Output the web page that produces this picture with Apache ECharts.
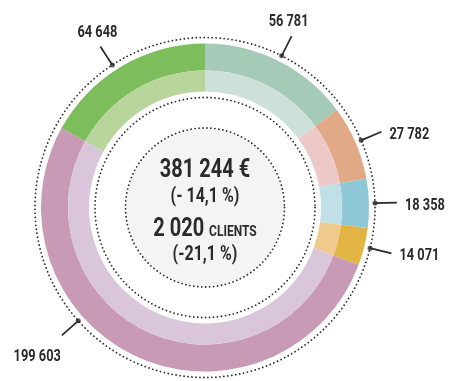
<!DOCTYPE html>
<html>
<head>
<meta charset="utf-8">
<script src="https://cdn.jsdelivr.net/npm/echarts@6/dist/echarts.min.js"></script>
<style>
  html, body { margin: 0; padding: 0; background: #ffffff; }
  #chart { width: 451px; height: 381px; }
</style>
</head>
<body>
<div id="chart"></div>
<script>
// Revenue split by segment, listed clockwise from 12 o'clock
const sliceValues = [56781, 27782, 18358, 14071, 199603, 64648];

// Centre block
const totalText = '381 244 €';
const totalChange = '(- 14,1 %)';
const clientsCount = '2 020';
const clientsWord = 'CLIENTS';
const clientsChange = '(-21,1 %)';

// Palette: darker outer band, lighter inner band
const outerColors = ['#a5cab7', '#e2a987', '#8fc9d7', '#e2b444', '#c99ab5', '#7dbd5b'];
const innerColors = ['#cde0da', '#ecc8c6', '#c0dfe7', '#efca8e', '#dac6da', '#b8d59b'];

const CX = 205, CY = 207.5;
const R_OUT = 164, R_MID = 137, R_IN = 116;
const R_DOT = 170, R_LEAD = 192;
const INK = '#2a2a2a';
const FONT = "Roboto, 'Liberation Sans', sans-serif";
const SQUEEZE = 0.8;   // horizontal squeeze giving the condensed lettering

// leaders that are turned away from their slice middle (degrees)
const leaderNudge = { 4: 23.5, 5: -2.5 };

const total = sliceValues.reduce((a, b) => a + b, 0);
const leaderAngles = [];
let acc = 0;
sliceValues.forEach((v, i) => {
  leaderAngles.push((acc + v / 2) / total * 360 + (leaderNudge[i] || 0));
  acc += v;
});

function fmt(v) { return String(v).replace(/\B(?=(\d{3})+(?!\d))/g, ' '); }
function polarPt(r, deg) {
  const a = deg * Math.PI / 180;
  return [CX + r * Math.sin(a), CY - r * Math.cos(a)];
}

function condensedText(text, x, y, align, vAlign, size, extra) {
  return {
    type: 'text', silent: true, x: x, y: y, scaleX: SQUEEZE, z: 10,
    style: Object.assign({
      text: text, x: 0, y: 0, align: align, verticalAlign: vAlign,
      fontFamily: FONT, fontWeight: 'bold', fontSize: size, fill: INK
    }, extra || {})
  };
}

function dottedRing(r) {
  return {
    type: 'circle', silent: true,
    shape: { cx: CX, cy: CY, r: r },
    style: { fill: 'none', stroke: INK, lineWidth: 1.8, lineDash: [0, 4], lineCap: 'round' }
  };
}

// leader line and value text for every slice
const leaderGraphics = [];
sliceValues.forEach((v, i) => {
  const deg = leaderAngles[i];
  const s = polarPt(R_DOT, deg), e = polarPt(R_LEAD, deg);
  leaderGraphics.push({
    type: 'line', silent: true, z: 9,
    shape: { x1: s[0], y1: s[1], x2: e[0], y2: e[1] },
    style: { stroke: INK, lineWidth: 1.7 }
  });
  if (deg > 45 && deg < 135) {
    leaderGraphics.push(condensedText(fmt(v), e[0] + 8, e[1] + 3, 'left', 'middle', 16));
  } else if (deg >= 135 && deg < 300) {
    leaderGraphics.push(condensedText(fmt(v), e[0] - 1, e[1] + 14, 'right', 'top', 16));
  } else {
    leaderGraphics.push(condensedText(fmt(v), e[0] - 3, e[1] - 6, 'center', 'bottom', 16));
  }
});

const outerData = sliceValues.map((v, i) => ({ value: v, itemStyle: { color: outerColors[i] } }));
const innerData = sliceValues.map((v, i) => ({ value: v, itemStyle: { color: innerColors[i] } }));

const chart = echarts.init(document.getElementById('chart'), null, { renderer: 'canvas' });

chart.setOption({
  backgroundColor: '#ffffff',
  animation: false,
  polar: { center: [CX, CY], radius: R_DOT },
  angleAxis: { type: 'value', min: 0, max: 360, startAngle: 90, clockwise: true, show: false },
  radiusAxis: { type: 'value', min: 0, max: R_DOT, show: false },
  graphic: [
    { type: 'circle', silent: true, z: -1, shape: { cx: CX, cy: CY, r: 79 }, style: { fill: '#f4f4f4' } },
    dottedRing(R_DOT),
    dottedRing(110),
    dottedRing(79.5),
    condensedText(totalText, CX, 171, 'center', 'middle', 25),
    condensedText(totalChange, CX, 197, 'center', 'middle', 20),
    condensedText('{n|' + clientsCount + '} {w|' + clientsWord + '}', CX, 229.5, 'center', 'middle', 25, {
      rich: {
        n: { fontFamily: FONT, fontWeight: 'bold', fontSize: 25, fill: INK, verticalAlign: 'bottom' },
        w: { fontFamily: FONT, fontWeight: 'bold', fontSize: 15, fill: INK, verticalAlign: 'bottom', padding: [0, 0, 2, 0] }
      }
    }),
    condensedText(clientsChange, CX, 255, 'center', 'middle', 20)
  ].concat(leaderGraphics),
  series: [
    {
      type: 'pie',
      center: [CX, CY],
      radius: [R_MID, R_OUT],
      startAngle: 90,
      clockwise: true,
      silent: true,
      itemStyle: { borderWidth: 0 },
      label: { show: false },
      labelLine: { show: false },
      data: outerData
    },
    {
      type: 'pie',
      center: [CX, CY],
      radius: [R_IN, R_MID],
      startAngle: 90,
      clockwise: true,
      silent: true,
      itemStyle: { borderWidth: 0 },
      label: { show: false },
      labelLine: { show: false },
      data: innerData
    },
    {
      // leader anchor dots on the outer dotted ring
      type: 'scatter',
      coordinateSystem: 'polar',
      silent: true,
      symbol: 'circle',
      symbolSize: 5,
      itemStyle: { color: INK },
      z: 5,
      data: leaderAngles.map(a => [R_DOT, a])
    }
  ]
});
</script>
</body>
</html>
